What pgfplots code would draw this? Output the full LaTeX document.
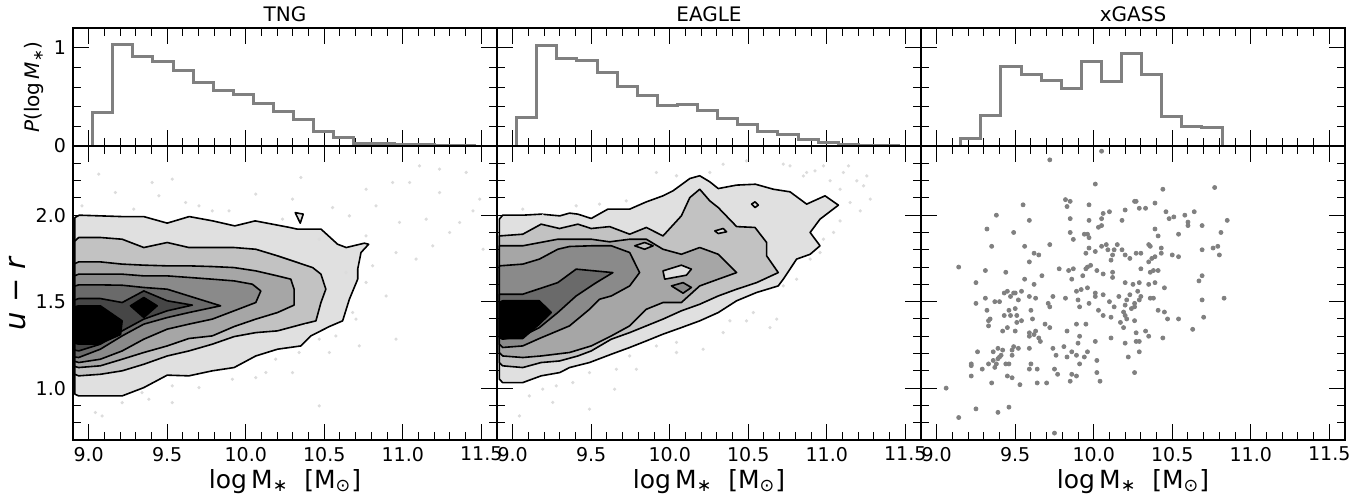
\documentclass[border=0pt]{standalone}
\usepackage{pgfplots}
\pgfplotsset{compat=1.18}
\usepackage{fontspec}
\setmainfont{DejaVu Sans}
\setsansfont{DejaVu Sans}
\definecolor{cA}{HTML}{E0E0E0}
\definecolor{cB}{HTML}{C2C2C2}
\definecolor{cC}{HTML}{A6A6A6}
\definecolor{cD}{HTML}{8A8A8A}
\definecolor{cE}{HTML}{6A6A6A}
\definecolor{cF}{HTML}{464646}
\definecolor{cG}{HTML}{000000}
\definecolor{faint}{HTML}{DCDCDC}
\definecolor{histc}{HTML}{808080}
\pgfplotsset{
  every axis title shift=0pt,
  base/.style={scale only axis, width=212pt, xmin=8.9, xmax=11.6,
    anchor=south west, axis line style={line width=1.1pt},
    tick align=inside, xtick pos=both, ytick pos=both,
    xtick={9.0,9.5,10.0,10.5,11.0,11.5},
    minor xtick={9.1,9.2,9.3,9.4,9.6,9.7,9.8,9.9,10.1,10.2,10.3,10.4,10.6,10.7,10.8,10.9,11.1,11.2,11.3,11.4},
    major tick length=8pt, minor tick length=4pt,
    every tick/.style={black, line width=0.5pt},
    tick label style={font=\fontsize{9.5}{11}\selectfont},
    /pgf/number format/assume math mode=true,
    title style={font=\fontsize{10}{12}\selectfont, at={(0.5,1)}, anchor=base, yshift=3.5pt},
  },
  top/.style={base, height=59pt, ymin=0, ymax=1.2, ytick={0,1}, minor ytick={0.2,0.4,0.6,0.8},
    xticklabels={}, yticklabels={}},
  bot/.style={base, height=147pt, ymin=0.7, ymax=2.4, ytick={1.0,1.5,2.0},
    minor ytick={0.8,0.9,1.1,1.2,1.3,1.4,1.6,1.7,1.8,1.9,2.1,2.2,2.3},
    yticklabels={}, xticklabels={9.0,9.5,10.0,10.5,11.0,11.5},
    xlabel={log\,M\textsubscript{∗}\ \ [M\textsubscript{⊙}]},
    xlabel style={font=\fontsize{12.5}{14}\selectfont, yshift=3pt}},
  cont/.style={draw=black, line width=0.8pt, line join=round},
  hist/.style={const plot, color=histc, line width=1.5pt},
  fpts/.style={only marks, mark=*, mark size=0.6pt, color=faint},
}
\begin{document}
\begin{tikzpicture}
\useasboundingbox (0,0) rectangle (683.5pt,247.5pt);
% ---------------- TNG histogram
\begin{axis}[top, at={(36.5pt,174.5pt)}, title={TNG}, yticklabels={0,1},
  ylabel={\textit{P}(log\,\textit{M}\textsubscript{∗})}, ylabel style={font=\fontsize{10}{12}\selectfont, yshift=-2pt}]
\addplot[hist] coordinates {(9.025,0)(9.025,0.337)(9.153,1.035)(9.281,0.908)(9.409,0.857)(9.537,0.772)(9.665,0.647)(9.793,0.561)(9.921,0.524)(10.049,0.432)(10.177,0.347)(10.305,0.272)(10.433,0.150)(10.561,0.086)(10.689,0.030)(10.817,0.025)(10.945,0.020)(11.073,0.015)(11.201,0.010)(11.329,0.005)(11.457,0)(11.6,0)};
\end{axis}
% ---------------- EAGLE histogram
\begin{axis}[top, at={(248.5pt,174.5pt)}, title={EAGLE}]
\addplot[hist] coordinates {(9.025,0)(9.025,0.29)(9.153,1.017)(9.281,0.892)(9.409,0.874)(9.537,0.749)(9.665,0.602)(9.793,0.51)(9.921,0.408)(10.049,0.422)(10.177,0.364)(10.305,0.279)(10.433,0.221)(10.561,0.143)(10.689,0.116)(10.817,0.065)(10.945,0.035)(11.073,0.015)(11.201,0.005)(11.329,0.003)(11.457,0)(11.6,0)};
\end{axis}
% ---------------- xGASS histogram
\begin{axis}[top, at={(460.5pt,174.5pt)}, title={xGASS}]
\addplot[hist] coordinates {(8.9,0)(9.153,0.08)(9.281,0.306)(9.409,0.806)(9.537,0.73)(9.665,0.663)(9.793,0.585)(9.921,0.864)(10.049,0.66)(10.177,0.943)(10.305,0.728)(10.433,0.303)(10.561,0.2)(10.689,0.184)(10.817,0)(11.6,0)};
\end{axis}
% ---------------- TNG contours
\begin{axis}[bot, at={(36.5pt,27.5pt)}, yticklabels={1.0,1.5,2.0},
  ylabel={\textit{u} − \textit{r}}, ylabel style={font=\fontsize{14.5}{16}\selectfont, yshift=-2pt}]
\addplot[fpts] coordinates {(9.064,2.237)(9.287,2.035)(9.404,2.189)(9.532,2.208)(9.702,2.054)(9.894,2.025)(10.064,2.122)(10.298,2.093)(10.351,2.218)(10.553,2.044)(10.660,1.996)(10.766,1.880)(10.830,2.054)(10.957,1.784)(10.979,1.958)(11.106,2.285)(11.191,1.823)(11.234,2.131)(11.298,1.900)(11.404,2.247)(11.447,2.025)(11.511,1.803)(11.149,1.977)(10.936,2.189)(10.766,2.150)(10.468,1.861)(10.234,1.977)(9.787,2.025)(9.617,2.073)(9.447,2.112)(9.170,2.131)(8.957,2.054)(9.085,0.839)(9.213,0.916)(9.340,0.974)(9.532,1.013)(9.702,1.003)(9.915,1.051)(10.064,1.061)(10.191,1.167)(10.340,1.206)(10.468,1.283)(10.574,1.302)(10.681,1.437)(10.766,1.611)(10.894,1.533)(10.957,1.283)(10.723,1.244)(10.468,0.897)(10.128,1.090)(10.298,1.090)(9.532,0.916)(9.383,0.936)(9.043,0.859)(10.638,1.668)(10.702,1.399)(10.532,1.206)(10.383,1.360)(10.808,1.707)(11.085,1.746)(11.043,2.189)(11.234,2.266)(11.362,1.958)(11.49,2.093)};
\addplot[cont, fill=cA] coordinates {(8.912,1.986)(8.94,2.0)(9.21,1.992)(9.35,1.992)(9.50,1.954)(9.64,1.992)(9.79,1.967)(9.93,1.938)(10.06,1.967)(10.28,1.929)(10.33,1.919)(10.48,1.919)(10.585,1.832)(10.64,1.813)(10.755,1.838)(10.783,1.832)(10.734,1.784)(10.713,1.688)(10.713,1.630)(10.66,1.514)(10.617,1.389)(10.532,1.356)(10.415,1.302)(10.351,1.244)(10.202,1.225)(10.064,1.186)(9.926,1.119)(9.787,1.100)(9.638,1.071)(9.50,1.075)(9.351,1.003)(9.213,0.955)(9.074,0.955)(8.936,0.955)(8.912,0.965)} -- cycle;
\addplot[cont, fill=cA] coordinates {(10.315,2.015)(10.366,2.006)(10.347,1.954)} -- cycle;
\addplot[cont, fill=cB] coordinates {(8.912,1.85)(8.936,1.871)(9.074,1.871)(9.213,1.861)(9.351,1.813)(9.50,1.842)(9.638,1.813)(9.787,1.813)(9.926,1.813)(10.064,1.803)(10.202,1.765)(10.298,1.736)(10.426,1.697)(10.479,1.659)(10.51,1.572)(10.479,1.495)(10.447,1.389)(10.362,1.370)(10.202,1.331)(10.064,1.321)(9.926,1.298)(9.787,1.254)(9.638,1.215)(9.50,1.186)(9.351,1.138)(9.213,1.100)(9.074,1.080)(8.936,1.071)(8.912,1.08)} -- cycle;
\addplot[cont, fill=cC] coordinates {(8.912,1.72)(8.936,1.730)(9.074,1.730)(9.213,1.717)(9.351,1.711)(9.50,1.707)(9.638,1.707)(9.787,1.703)(9.926,1.697)(10.064,1.678)(10.202,1.649)(10.287,1.630)(10.308,1.572)(10.308,1.480)(10.202,1.437)(10.064,1.399)(9.926,1.356)(9.787,1.302)(9.638,1.287)(9.50,1.244)(9.351,1.206)(9.213,1.167)(9.074,1.129)(8.936,1.119)(8.912,1.125)} -- cycle;
\addplot[cont, fill=cD] coordinates {(8.912,1.65)(8.936,1.659)(9.074,1.659)(9.213,1.659)(9.351,1.649)(9.50,1.649)(9.638,1.640)(9.787,1.630)(9.926,1.620)(10.042,1.601)(10.096,1.562)(10.064,1.495)(9.926,1.447)(9.787,1.399)(9.638,1.370)(9.50,1.341)(9.351,1.283)(9.213,1.215)(9.074,1.167)(8.936,1.148)(8.912,1.155)} -- cycle;
\addplot[cont, fill=cE] coordinates {(8.912,1.59)(8.936,1.597)(9.074,1.597)(9.213,1.595)(9.351,1.582)(9.50,1.572)(9.638,1.533)(9.84,1.476)(9.638,1.437)(9.50,1.408)(9.351,1.370)(9.213,1.302)(9.074,1.225)(8.936,1.177)(8.912,1.18)} -- cycle;
\addplot[cont, fill=cF] coordinates {(8.912,1.51)(8.936,1.518)(9.074,1.518)(9.213,1.495)(9.351,1.562)(9.50,1.505)(9.66,1.48)(9.50,1.447)(9.351,1.399)(9.213,1.331)(9.074,1.254)(8.936,1.215)(8.912,1.22)} -- cycle;
\addplot[cont, fill=cG] coordinates {(8.912,1.47)(8.936,1.476)(9.074,1.476)(9.213,1.389)(9.203,1.31)(9.064,1.254)(8.936,1.254)(8.912,1.26)} -- cycle;
\addplot[cont, fill=cG] coordinates {(9.266,1.476)(9.351,1.524)(9.436,1.476)(9.351,1.408)} -- cycle;
\end{axis}
% ---------------- EAGLE contours
\begin{axis}[bot, at={(248.5pt,27.5pt)}]
\addplot[fpts] coordinates {(9.064,2.035)(9.191,1.996)(9.404,2.054)(9.553,2.064)(9.723,2.083)(9.915,2.247)(10.043,2.228)(10.255,2.247)(10.340,2.295)(10.489,2.314)(10.723,2.295)(10.766,2.285)(10.872,2.247)(10.925,2.256)(11.021,2.199)(11.085,2.150)(11.138,2.285)(11.191,2.199)(11.234,2.170)(11.277,2.093)(11.149,2.073)(11.085,1.967)(10.979,1.861)(10.957,1.784)(10.894,1.746)(10.723,1.591)(10.638,1.350)(10.532,1.437)(10.489,1.389)(10.340,1.321)(10.213,1.225)(10.043,1.206)(9.915,1.244)(9.745,1.186)(9.660,1.109)(9.489,1.090)(9.383,1.032)(9.277,1.013)(9.191,0.994)(9.106,0.955)(9.043,0.839)(9.255,0.917)(9.489,0.878)(9.649,0.994)(9.787,1.109)(10.043,1.264)(10.681,1.399)(11.213,2.025)(11.255,2.227)(10.979,2.285)(10.851,2.227)(11.106,2.247)(11.043,1.900)(10.808,1.630)(10.383,1.389)};
\addplot[cont, fill=cA] coordinates {(8.915,1.977)(8.936,2.000)(9.064,2.000)(9.181,2.006)(9.30,1.996)(9.362,2.012)(9.415,2.006)(9.50,1.981)(9.606,2.035)(9.745,2.035)(9.851,2.077)(9.957,2.112)(10.021,2.141)(10.128,2.212)(10.191,2.228)(10.255,2.193)(10.309,2.154)(10.426,2.174)(10.546,2.179)(10.66,2.150)(10.766,2.135)(10.872,2.064)(10.989,2.112)(11.074,2.058)(10.957,1.977)(10.894,1.900)(10.957,1.823)(10.894,1.774)(10.808,1.746)(10.723,1.630)(10.691,1.591)(10.553,1.553)(10.426,1.505)(10.309,1.437)(10.191,1.389)(10.074,1.350)(9.957,1.312)(9.851,1.273)(9.745,1.235)(9.628,1.196)(9.489,1.148)(9.362,1.119)(9.30,1.090)(9.181,1.071)(9.064,1.032)(8.936,1.032)(8.915,1.052)} -- cycle;
\addplot[cont, fill=cA] coordinates {(10.521,2.064)(10.543,2.077)(10.564,2.058)(10.543,2.044)} -- cycle;
\addplot[cont, fill=cB] coordinates {(8.915,1.880)(9.064,1.890)(9.181,1.948)(9.298,1.923)(9.415,1.948)(9.5,1.923)(9.617,1.934)(9.745,1.890)(9.851,1.929)(9.957,1.880)(10.074,1.996)(10.128,2.102)(10.191,2.150)(10.255,2.083)(10.309,2.044)(10.426,1.934)(10.543,1.929)(10.617,1.842)(10.617,1.765)(10.691,1.668)(10.553,1.610)(10.426,1.572)(10.309,1.533)(10.191,1.485)(10.074,1.447)(9.957,1.399)(9.851,1.360)(9.745,1.321)(9.628,1.283)(9.5,1.215)(9.415,1.186)(9.298,1.157)(9.181,1.148)(9.064,1.119)(8.936,1.129)(8.915,1.148)} -- cycle;
\addplot[cont, fill=cA] coordinates {(10.287,1.909)(10.34,1.923)(10.362,1.904)(10.309,1.894)} -- cycle;
\addplot[cont, fill=cC] coordinates {(8.915,1.823)(9.064,1.823)(9.287,1.861)(9.5,1.861)(9.617,1.846)(9.745,1.861)(9.851,1.861)(9.957,1.803)(10.074,1.774)(10.191,1.813)(10.309,1.774)(10.426,1.668)(10.309,1.630)(10.191,1.591)(10.074,1.495)(9.957,1.495)(9.851,1.456)(9.745,1.360)(9.628,1.302)(9.5,1.244)(9.362,1.206)(9.181,1.186)(9.064,1.177)(8.936,1.186)(8.915,1.206)} -- cycle;
\addplot[cont, fill=cB] coordinates {(9.777,1.823)(9.840,1.842)(9.894,1.823)(9.840,1.803)} -- cycle;
\addplot[cont, fill=cA] coordinates {(9.957,1.678)(10.074,1.711)(10.138,1.688)(10.106,1.653)(9.968,1.630)} -- cycle;
\addplot[cont, fill=cD] coordinates {(10.011,1.591)(10.085,1.610)(10.138,1.582)(10.085,1.549)} -- cycle;
\addplot[cont, fill=cD] coordinates {(8.915,1.707)(9.064,1.717)(9.17,1.746)(9.287,1.803)(9.362,1.819)(9.5,1.823)(9.628,1.823)(9.745,1.784)(9.808,1.668)(9.745,1.591)(9.628,1.533)(9.553,1.514)(9.489,1.456)(9.362,1.360)(9.17,1.287)(9.064,1.244)(8.936,1.235)(8.915,1.254)} -- cycle;
\addplot[cont, fill=cE] coordinates {(8.915,1.543)(9.064,1.543)(9.287,1.610)(9.404,1.688)(9.638,1.668)(9.532,1.610)(9.404,1.533)(9.287,1.437)(9.17,1.350)(9.064,1.302)(8.936,1.283)(8.915,1.292)} -- cycle;
\addplot[cont, fill=cG] coordinates {(8.915,1.495)(8.936,1.505)(9.17,1.505)(9.245,1.437)(9.17,1.370)(9.064,1.287)(8.936,1.287)(8.915,1.302)} -- cycle;
\end{axis}
% ---------------- xGASS scatter
\begin{axis}[bot, at={(460.5pt,27.5pt)}]
\addplot[only marks, mark=*, mark size=1pt, color=histc] coordinates {
(9.72,2.32)(10.05,2.37)(10.01,2.18)(10.77,2.16)(10.44,2.15)(9.82,2.09)(9.85,2.08)(9.83,2.05)(9.55,2.06)(9.97,2.06)(10.26,2.08)(10.27,2.08)(10.29,2.04)(10.33,2.04)(10.39,2.07)(10.20,2.03)(10.10,2.02)(10.06,2.01)(10.05,1.98)(10.46,2.02)(10.48,1.98)(10.51,1.99)(10.58,2.00)(10.64,2.02)(10.60,1.96)(10.60,1.94)(10.85,1.97)(10.69,1.94)(9.38,2.00)(9.59,1.97)(9.85,1.98)(9.97,1.97)(10.18,1.97)(10.05,1.94)(10.03,1.93)(9.32,1.92)(9.49,1.90)(9.85,1.90)(9.87,1.86)(9.94,1.89)(9.96,1.89)(9.97,1.87)(10.39,1.92)(10.41,1.88)(10.54,1.89)(10.81,1.90)(9.72,1.83)(9.35,1.82)(9.56,1.82)(9.62,1.78)(9.65,1.77)(9.59,1.73)(9.95,1.78)(9.97,1.81)(10.01,1.79)(10.05,1.82)(10.08,1.83)(10.09,1.80)(10.13,1.80)(10.15,1.83)(10.18,1.80)(10.12,1.77)(10.11,1.74)(10.20,1.77)(10.23,1.75)(10.27,1.78)(10.30,1.78)(10.35,1.83)(10.36,1.82)(10.43,1.81)(10.43,1.78)(10.39,1.76)(10.37,1.75)(10.35,1.73)(10.50,1.77)(10.54,1.76)(10.69,1.80)(10.76,1.81)(10.79,1.82)(10.80,1.77)
(9.14,1.70)(9.31,1.68)(9.44,1.67)(9.67,1.65)(9.78,1.69)(9.84,1.68)(9.87,1.69)(9.93,1.65)(9.86,1.63)(9.95,1.69)(9.96,1.70)(9.98,1.71)(10.02,1.68)(10.06,1.66)(10.12,1.67)(10.12,1.64)(10.30,1.69)(10.36,1.67)(10.38,1.68)(10.41,1.68)(10.69,1.65)(10.67,1.62)(9.25,1.61)(9.56,1.63)(9.62,1.60)(10.20,1.61)(10.25,1.60)(10.29,1.61)(10.35,1.60)(10.39,1.61)(10.45,1.58)(9.96,1.58)(9.92,1.57)(9.89,1.56)(10.01,1.55)(10.01,1.53)(10.06,1.54)(9.90,1.51)(9.82,1.52)(9.74,1.53)(9.63,1.52)(9.59,1.53)(9.52,1.51)(9.54,1.56)(9.49,1.55)(9.50,1.55)(9.45,1.56)(9.43,1.55)(9.47,1.53)(9.40,1.50)(9.37,1.50)(9.31,1.52)(9.25,1.49)(10.16,1.53)(10.23,1.54)(10.28,1.56)(10.30,1.53)(10.29,1.51)(10.26,1.49)(10.21,1.51)(10.20,1.48)(10.24,1.46)(10.26,1.47)(10.36,1.52)(10.38,1.52)(10.69,1.51)(10.83,1.52)(10.10,1.50)(10.13,1.47)(9.97,1.49)(9.91,1.47)(9.71,1.49)(9.72,1.47)(9.60,1.45)(9.50,1.46)(9.46,1.45)(9.43,1.42)(9.47,1.42)(9.51,1.42)(9.54,1.39)(9.51,1.38)(9.32,1.45)(9.34,1.40)(9.33,1.39)(9.33,1.36)(9.42,1.33)(9.45,1.35)(9.50,1.33)(9.61,1.40)(9.69,1.37)(9.72,1.35)(9.63,1.33)(9.59,1.32)(9.59,1.30)(9.62,1.31)(9.65,1.29)(9.66,1.27)(9.52,1.23)(9.49,1.24)(9.48,1.22)(9.48,1.19)(9.59,1.23)
(10.03,1.45)(10.06,1.42)(10.11,1.41)(10.17,1.38)(10.19,1.44)(10.20,1.42)(10.21,1.40)(10.19,1.35)(10.26,1.39)(10.27,1.32)(10.33,1.33)(10.35,1.30)(10.41,1.45)(10.45,1.44)(10.47,1.40)(10.54,1.40)(10.70,1.41)(10.63,1.34)(10.44,1.29)(9.83,1.33)(9.95,1.37)(9.89,1.37)(9.91,1.30)(9.90,1.26)(10.01,1.27)(10.11,1.29)(10.20,1.26)(10.27,1.27)(10.29,1.27)(10.29,1.21)(10.22,1.18)(10.26,1.09)(10.02,1.16)(10.02,1.09)(10.04,1.04)(9.96,1.21)(9.94,1.18)(9.89,1.19)(9.86,1.21)(9.83,1.18)(9.81,1.24)(9.74,1.23)(9.76,1.19)(9.91,1.14)(9.86,1.08)(9.89,1.07)(9.85,1.04)(9.77,1.08)(9.75,1.11)(9.64,1.11)(9.59,1.11)(9.60,1.14)(9.64,1.03)(9.70,1.03)(9.53,1.02)(9.48,1.06)(9.45,1.07)(9.46,1.14)(9.44,1.14)(9.38,1.14)(9.37,1.12)(9.39,1.17)(9.40,1.18)(9.41,1.19)(9.42,1.22)(9.39,1.23)(9.36,1.21)(9.36,1.16)(9.33,1.14)(9.29,1.11)(9.26,1.21)(9.22,1.14)(9.22,1.13)(9.22,1.07)(9.35,1.03)(9.06,1.00)(9.14,0.83)(9.25,0.88)(9.39,0.86)(9.46,0.89)(9.75,0.74)};
\end{axis}
\end{tikzpicture}
\end{document}
